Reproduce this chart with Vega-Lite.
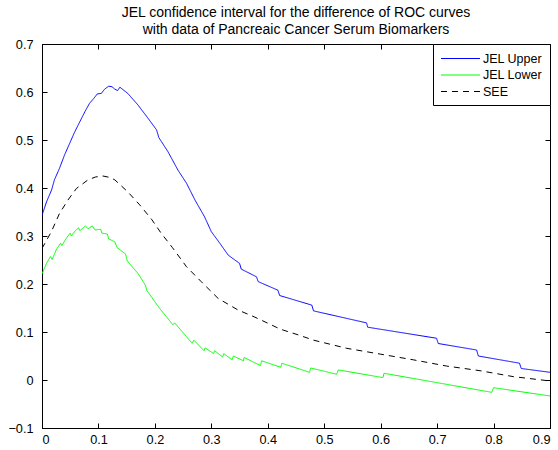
{
  "$schema": "https://vega.github.io/schema/vega-lite/v6.json",
  "autosize": {"type": "none"},
  "width": 508,
  "height": 384,
  "padding": {"left": 42, "top": 44, "right": 8, "bottom": 22},
  "background": "white",
  "config": {
    "font": "Liberation Sans",
    "view": {"stroke": "black", "strokeWidth": 1},
    "axis": {"grid": false, "domainColor": "black", "tickColor": "black", "labelColor": "black", "labelFontSize": 12.7, "labelFont": "Liberation Sans", "tickSize": -5, "title": null}
  },
  "title": {
    "text": ["JEL confidence interval for the difference of ROC curves", "with data of Pancreaic Cancer Serum Biomarkers"],
    "fontSize": 14,
    "fontWeight": "normal",
    "font": "Liberation Sans",
    "color": "black",
    "lineHeight": 17,
    "offset": 1,
    "anchor": "middle"
  },
  "data": {"values": [
    {"s":"JEL Upper","x":0,"y":0.343},{"s":"JEL Upper","x":0.008,"y":0.371},{"s":"JEL Upper","x":0.017,"y":0.396},{"s":"JEL Upper","x":0.022,"y":0.417},{"s":"JEL Upper","x":0.031,"y":0.441},{"s":"JEL Upper","x":0.04,"y":0.469},{"s":"JEL Upper","x":0.049,"y":0.493},{"s":"JEL Upper","x":0.058,"y":0.517},{"s":"JEL Upper","x":0.067,"y":0.538},{"s":"JEL Upper","x":0.076,"y":0.559},{"s":"JEL Upper","x":0.084,"y":0.576},{"s":"JEL Upper","x":0.092,"y":0.587},{"s":"JEL Upper","x":0.098,"y":0.596},{"s":"JEL Upper","x":0.105,"y":0.597},{"s":"JEL Upper","x":0.111,"y":0.606},{"s":"JEL Upper","x":0.118,"y":0.612},{"s":"JEL Upper","x":0.124,"y":0.611},{"s":"JEL Upper","x":0.129,"y":0.606},{"s":"JEL Upper","x":0.134,"y":0.603},{"s":"JEL Upper","x":0.138,"y":0.61},{"s":"JEL Upper","x":0.152,"y":0.597},{"s":"JEL Upper","x":0.17,"y":0.573},{"s":"JEL Upper","x":0.188,"y":0.545},{"s":"JEL Upper","x":0.203,"y":0.521},{"s":"JEL Upper","x":0.207,"y":0.505},{"s":"JEL Upper","x":0.223,"y":0.476},{"s":"JEL Upper","x":0.241,"y":0.437},{"s":"JEL Upper","x":0.256,"y":0.41},{"s":"JEL Upper","x":0.271,"y":0.375},{"s":"JEL Upper","x":0.288,"y":0.34},{"s":"JEL Upper","x":0.3,"y":0.309},{"s":"JEL Upper","x":0.315,"y":0.285},{"s":"JEL Upper","x":0.33,"y":0.26},{"s":"JEL Upper","x":0.35,"y":0.243},{"s":"JEL Upper","x":0.353,"y":0.231},{"s":"JEL Upper","x":0.38,"y":0.215},{"s":"JEL Upper","x":0.383,"y":0.205},{"s":"JEL Upper","x":0.418,"y":0.187},{"s":"JEL Upper","x":0.421,"y":0.176},{"s":"JEL Upper","x":0.478,"y":0.156},{"s":"JEL Upper","x":0.481,"y":0.144},{"s":"JEL Upper","x":0.575,"y":0.119},{"s":"JEL Upper","x":0.577,"y":0.11},{"s":"JEL Upper","x":0.699,"y":0.087},{"s":"JEL Upper","x":0.702,"y":0.076},{"s":"JEL Upper","x":0.77,"y":0.0625},{"s":"JEL Upper","x":0.773,"y":0.05},{"s":"JEL Upper","x":0.846,"y":0.035},{"s":"JEL Upper","x":0.849,"y":0.024},{"s":"JEL Upper","x":0.9,"y":0.016},
    {"s":"JEL Lower","x":0,"y":0.221},{"s":"JEL Lower","x":0.008,"y":0.243},{"s":"JEL Lower","x":0.015,"y":0.257},{"s":"JEL Lower","x":0.018,"y":0.251},{"s":"JEL Lower","x":0.025,"y":0.271},{"s":"JEL Lower","x":0.033,"y":0.285},{"s":"JEL Lower","x":0.035,"y":0.28},{"s":"JEL Lower","x":0.043,"y":0.295},{"s":"JEL Lower","x":0.05,"y":0.306},{"s":"JEL Lower","x":0.052,"y":0.3},{"s":"JEL Lower","x":0.059,"y":0.311},{"s":"JEL Lower","x":0.065,"y":0.317},{"s":"JEL Lower","x":0.067,"y":0.311},{"s":"JEL Lower","x":0.077,"y":0.321},{"s":"JEL Lower","x":0.0815,"y":0.315},{"s":"JEL Lower","x":0.089,"y":0.321},{"s":"JEL Lower","x":0.094,"y":0.3125},{"s":"JEL Lower","x":0.104,"y":0.314},{"s":"JEL Lower","x":0.106,"y":0.306},{"s":"JEL Lower","x":0.116,"y":0.304},{"s":"JEL Lower","x":0.118,"y":0.294},{"s":"JEL Lower","x":0.129,"y":0.288},{"s":"JEL Lower","x":0.133,"y":0.276},{"s":"JEL Lower","x":0.148,"y":0.2625},{"s":"JEL Lower","x":0.151,"y":0.248},{"s":"JEL Lower","x":0.17,"y":0.222},{"s":"JEL Lower","x":0.183,"y":0.198},{"s":"JEL Lower","x":0.186,"y":0.186},{"s":"JEL Lower","x":0.2085,"y":0.149},{"s":"JEL Lower","x":0.232,"y":0.115},{"s":"JEL Lower","x":0.235,"y":0.119},{"s":"JEL Lower","x":0.266,"y":0.0765},{"s":"JEL Lower","x":0.269,"y":0.083},{"s":"JEL Lower","x":0.287,"y":0.061},{"s":"JEL Lower","x":0.289,"y":0.067},{"s":"JEL Lower","x":0.304,"y":0.055},{"s":"JEL Lower","x":0.306,"y":0.061},{"s":"JEL Lower","x":0.32,"y":0.048},{"s":"JEL Lower","x":0.322,"y":0.055},{"s":"JEL Lower","x":0.337,"y":0.042},{"s":"JEL Lower","x":0.339,"y":0.05},{"s":"JEL Lower","x":0.357,"y":0.04},{"s":"JEL Lower","x":0.358,"y":0.047},{"s":"JEL Lower","x":0.387,"y":0.03},{"s":"JEL Lower","x":0.389,"y":0.04},{"s":"JEL Lower","x":0.423,"y":0.0265},{"s":"JEL Lower","x":0.425,"y":0.035},{"s":"JEL Lower","x":0.474,"y":0.016},{"s":"JEL Lower","x":0.476,"y":0.025},{"s":"JEL Lower","x":0.522,"y":0.012},{"s":"JEL Lower","x":0.525,"y":0.021},{"s":"JEL Lower","x":0.604,"y":0.005},{"s":"JEL Lower","x":0.606,"y":0.014},{"s":"JEL Lower","x":0.797,"y":-0.0257},{"s":"JEL Lower","x":0.8,"y":-0.016},{"s":"JEL Lower","x":0.9,"y":-0.0333},
    {"s":"SEE","x":0,"y":0.274},{"s":"SEE","x":0.0166,"y":0.309},{"s":"SEE","x":0.031,"y":0.347},{"s":"SEE","x":0.046,"y":0.375},{"s":"SEE","x":0.061,"y":0.399},{"s":"SEE","x":0.0815,"y":0.417},{"s":"SEE","x":0.095,"y":0.423},{"s":"SEE","x":0.108,"y":0.425},{"s":"SEE","x":0.12,"y":0.422},{"s":"SEE","x":0.129,"y":0.417},{"s":"SEE","x":0.152,"y":0.392},{"s":"SEE","x":0.173,"y":0.365},{"s":"SEE","x":0.194,"y":0.335},{"s":"SEE","x":0.211,"y":0.306},{"s":"SEE","x":0.231,"y":0.276},{"s":"SEE","x":0.256,"y":0.236},{"s":"SEE","x":0.282,"y":0.205},{"s":"SEE","x":0.312,"y":0.17},{"s":"SEE","x":0.347,"y":0.146},{"s":"SEE","x":0.377,"y":0.131},{"s":"SEE","x":0.406,"y":0.115},{"s":"SEE","x":0.422,"y":0.106},{"s":"SEE","x":0.454,"y":0.094},{"s":"SEE","x":0.481,"y":0.083},{"s":"SEE","x":0.54,"y":0.066},{"s":"SEE","x":0.599,"y":0.054},{"s":"SEE","x":0.658,"y":0.042},{"s":"SEE","x":0.717,"y":0.029},{"s":"SEE","x":0.776,"y":0.0194},{"s":"SEE","x":0.835,"y":0.007},{"s":"SEE","x":0.9,"y":-0.002}
  ]},
  "layer": [
    {
      "mark": {"type": "line", "strokeWidth": 1, "clip": true},
      "encoding": {
        "x": {"field": "x", "type": "quantitative", "scale": {"domain": [0, 0.9], "nice": false, "zero": false},
              "axis": {"orient": "bottom", "values": [0,0.1,0.2,0.3,0.4,0.5,0.6,0.7,0.8,0.9], "labelPadding": 10, "format": "~g"}},
        "y": {"field": "y", "type": "quantitative", "scale": {"domain": [-0.1, 0.7], "nice": false, "zero": false},
              "axis": {"orient": "left", "values": [-0.1,0,0.1,0.2,0.3,0.4,0.5,0.6,0.7], "labelPadding": 14, "format": "~g"}},
        "color": {"field": "s", "type": "nominal", "sort": ["JEL Upper","JEL Lower","SEE"],
                  "scale": {"domain": ["JEL Upper","JEL Lower","SEE"], "range": ["#0000ff","#00ff00","#000000"]},
                  "legend": {"title": null, "orient": "top-right", "offset": 0, "symbolType": "M-1,0H5", "symbolSize": 169, "symbolStrokeWidth": 1.2, "labelFontSize": 12.5, "labelFont": "Liberation Sans", "labelColor": "black", "strokeColor": "black", "fillColor": "white", "padding": 7, "rowPadding": 2.5, "labelOffset": 28}},
        "strokeDash": {"field": "s", "type": "nominal", "sort": ["JEL Upper","JEL Lower","SEE"],
                  "scale": {"domain": ["JEL Upper","JEL Lower","SEE"], "range": [[1,0],[1,0],[6,5]]},
                  "legend": {"title": null, "orient": "top-right", "offset": 0, "symbolType": "M-1,0H5", "symbolSize": 169, "symbolStrokeWidth": 1.2, "labelFontSize": 12.5, "labelFont": "Liberation Sans", "labelColor": "black", "strokeColor": "black", "fillColor": "white", "padding": 7, "rowPadding": 2.5, "labelOffset": 28}}
      }
    },
    {
      "mark": {"type": "point", "opacity": 0},
      "encoding": {
        "x": {"field": "x", "type": "quantitative", "axis": {"orient": "top", "labels": false, "values": [0,0.1,0.2,0.3,0.4,0.5,0.6,0.7,0.8,0.9]}},
        "y": {"field": "y", "type": "quantitative", "axis": {"orient": "right", "labels": false, "values": [-0.1,0,0.1,0.2,0.3,0.4,0.5,0.6,0.7]}}
      }
    }
  ],
  "resolve": {"axis": {"x": "independent", "y": "independent"}}
}
